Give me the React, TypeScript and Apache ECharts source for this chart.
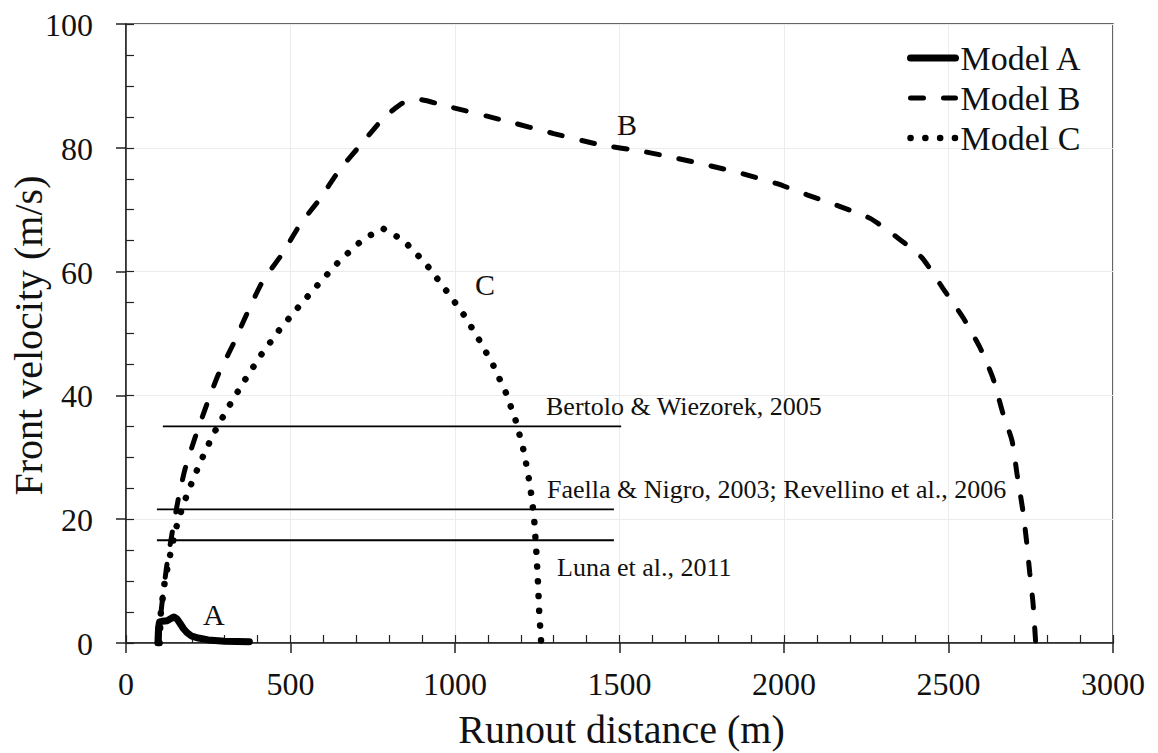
import React, { useEffect, useRef } from "react";
import * as echarts from "echarts";

const FONT = "Liberation Serif";

// Runout distance (m), front velocity (m/s)
const modelA: [number, number][] = [
  [97, 0], [99, 2.5], [102, 3.4], [110, 3.5], [125, 3.6], [138, 4.0], [146, 4.2],
  [155, 3.9], [165, 3.1], [175, 2.3], [185, 1.7], [200, 1.1], [220, 0.8],
  [250, 0.5], [300, 0.3], [375, 0.2],
];

const modelB: [number, number][] = [
  [100, 0], [104, 3.7], [113, 8], [125, 12.9], [140, 17.7], [158, 23], [179, 28],
  [210, 33.2], [246, 38.6], [280, 43.3], [326, 48.3], [371, 53.6], [416, 58.5],
  [474, 62.8], [529, 67.6], [590, 71.8], [650, 76.5], [717, 80.7], [781, 84.7],
  [840, 87.2], [890, 87.8], [970, 86.8], [1150, 84.4], [1300, 82.3], [1441, 80.5],
  [1572, 79.4], [1675, 78.3], [1775, 77.1], [1875, 75.8], [1979, 74.2], [2070, 72.4],
  [2171, 70.5], [2262, 68.6], [2347, 65.4], [2420, 62.2], [2483, 57.3], [2545, 52.5],
  [2596, 47.7], [2635, 42.8], [2666, 37.0], [2693, 32.7], [2708, 27.4], [2726, 21.4],
  [2738, 16.1], [2747, 11.3], [2757, 6.4], [2765, 0],
];

const modelC: [number, number][] = [
  [102, 0], [106, 5], [118, 10], [137, 15], [158, 19.8], [189, 24.5], [225, 29.1],
  [265, 33.7], [310, 38], [359, 42.3], [410, 46.5], [465, 50.5], [526, 54.4],
  [587, 58.1], [650, 61.8], [720, 65.2], [780, 67], [842, 65.1], [908, 61.5],
  [964, 57.6], [1021, 53.5], [1070, 49.3], [1116, 44.9], [1155, 40.4], [1186, 35.7],
  [1210, 30.8], [1228, 25.5], [1240, 20.5], [1247, 15], [1252, 10], [1256, 5],
  [1262, 0],
];

// Reference velocities from literature
const refNames = [
  "Bertolo & Wiezorek, 2005",
  "Faella & Nigro, 2003; Revellino et al., 2006",
  "Luna et al., 2011",
];
const refValues = [35, 21.6, 16.6];
const refStarts = [112, 94, 94];
const refEnds = [1505, 1483, 1483];

const seriesNames = ["Model A", "Model B", "Model C"];
const curveLabels = ["A", "B", "C"];

const xTickLabels = [0, 500, 1000, 1500, 2000, 2500, 3000];
const yTickLabels = [0, 20, 40, 60, 80, 100];
const xTitle = "Runout distance (m)";
const yTitle = "Front velocity (m/s)";

const styleA = { color: "#000", width: 7, type: "solid", cap: "round", join: "round" };
const styleB = { color: "#000", width: 5, type: [13, 20], cap: "round" };
const styleC = { color: "#000", width: 6.5, type: [0.1, 14.7], cap: "round" };

const txt = (text: string, x: number, y: number, size: number, align = "left", rotation = 0) => ({
  type: "text",
  x,
  y,
  rotation,
  silent: true,
  style: { text, fontFamily: FONT, fontSize: size, fill: "#111", verticalAlign: "middle", align },
});

export default function App() {
  const ref = useRef<HTMLDivElement>(null);

  useEffect(() => {
    if (!ref.current) return;
    const chart = echarts.init(ref.current, null, { renderer: "svg" });

    const refSeries = refValues.map((v, i) => ({
      name: refNames[i],
      type: "line",
      data: [
        [refStarts[i], v],
        [refEnds[i], v],
      ],
      symbol: "none",
      lineStyle: { color: "#000", width: 1.8 },
      z: 2,
    }));

    const option: any = {
      animation: false,
      backgroundColor: "#fff",
      textStyle: { fontFamily: FONT, color: "#111" },
      grid: {
        left: 126,
        right: 45,
        top: 24,
        bottom: 110,
        outerBoundsMode: "none",
        containLabel: false,
        show: true,
        borderColor: "#333",
        borderWidth: 1.5,
        backgroundColor: "transparent",
      },
      legend: {
        data: [
          { name: seriesNames[0], lineStyle: styleA },
          { name: seriesNames[1], lineStyle: styleB },
          { name: seriesNames[2], lineStyle: styleC },
        ],
        orient: "vertical",
        left: 907,
        top: 41,
        padding: 0,
        itemWidth: 45,
        itemHeight: 30,
        itemGap: 6,
        itemStyle: { opacity: 0 },
        textStyle: { fontFamily: FONT, fontSize: 34, color: "#111", lineHeight: 30 },
      },
      xAxis: [
        {
          type: "value",
          min: 0,
          max: 3000,
          interval: 500,
          position: "bottom",
          axisLine: { show: true, lineStyle: { color: "#222", width: 1.5 } },
          axisTick: { show: true, inside: false, length: 10, lineStyle: { color: "#222", width: 1.5 } },
          axisLabel: { show: false },
          splitLine: { show: true, lineStyle: { color: "#ececec", width: 1 } },
        },
        {
          type: "value",
          min: 0,
          max: 3000,
          interval: 100,
          position: "bottom",
          axisLine: { show: false },
          axisTick: { show: true, inside: true, length: 8, lineStyle: { color: "#222", width: 1.2 } },
          axisLabel: { show: false },
          splitLine: { show: false },
        },
      ],
      yAxis: [
        {
          type: "value",
          min: 0,
          max: 100,
          interval: 20,
          position: "left",
          axisLine: { show: true, lineStyle: { color: "#222", width: 1.5 } },
          axisTick: { show: true, inside: false, length: 10, lineStyle: { color: "#222", width: 1.5 } },
          axisLabel: { show: false },
          splitLine: { show: true, lineStyle: { color: "#ececec", width: 1 } },
        },
        {
          type: "value",
          min: 0,
          max: 100,
          interval: 5,
          position: "left",
          axisLine: { show: false },
          axisTick: { show: true, inside: true, length: 8, lineStyle: { color: "#222", width: 1.2 } },
          axisLabel: { show: false },
          splitLine: { show: false },
        },
      ],
      series: [
        ...refSeries,
        {
          name: seriesNames[2],
          type: "line",
          data: modelC,
          symbol: "none",
          lineStyle: styleC,
          itemStyle: { color: "#000" },
          z: 3,
        },
        {
          name: seriesNames[1],
          type: "line",
          data: modelB,
          symbol: "none",
          smooth: 0.2,
          lineStyle: styleB,
          itemStyle: { color: "#000" },
          z: 3,
        },
        {
          name: seriesNames[0],
          type: "line",
          data: modelA,
          symbol: "none",
          lineStyle: styleA,
          itemStyle: { color: "#000" },
          z: 4,
        },
      ],
    };

    chart.setOption(option);

    // Axis tick labels and titles placed through the axes' own scales
    const x0 = chart.convertToPixel({ xAxisIndex: 0 }, 0) as number;
    const x1 = chart.convertToPixel({ xAxisIndex: 0 }, 3000) as number;
    const y0 = chart.convertToPixel({ yAxisIndex: 0 }, 0) as number;
    const y1 = chart.convertToPixel({ yAxisIndex: 0 }, 100) as number;

    const graphics: any[] = [];
    xTickLabels.forEach((v) => {
      const px = chart.convertToPixel({ xAxisIndex: 0 }, v) as number;
      graphics.push(txt(String(v), px, y0 + 41, 32, "center"));
    });
    yTickLabels.forEach((v) => {
      const py = chart.convertToPixel({ yAxisIndex: 0 }, v) as number;
      graphics.push(txt(String(v), x0 - 33, py + 1, 32, "right"));
    });
    graphics.push(txt(xTitle, (x0 + x1) / 2 + 2, y0 + 86, 40, "center"));
    graphics.push(txt(yTitle, x0 - 98, (y0 + y1) / 2 + 2, 40, "center", Math.PI / 2));

    graphics.push(txt(curveLabels[0], 203, 614, 30));
    graphics.push(txt(curveLabels[1], 617, 124, 30));
    graphics.push(txt(curveLabels[2], 475, 284, 30));
    graphics.push(txt(refNames[0], 546, 406, 26));
    graphics.push(txt(refNames[1], 547, 489, 26));
    graphics.push(txt(refNames[2], 557, 567, 26));

    chart.setOption({ graphic: graphics });
    return () => chart.dispose();
  }, []);

  return (
    <div
      ref={ref}
      style={{ position: "absolute", left: 0, top: 0, width: 1158, height: 753, background: "#fff" }}
    />
  );
}
